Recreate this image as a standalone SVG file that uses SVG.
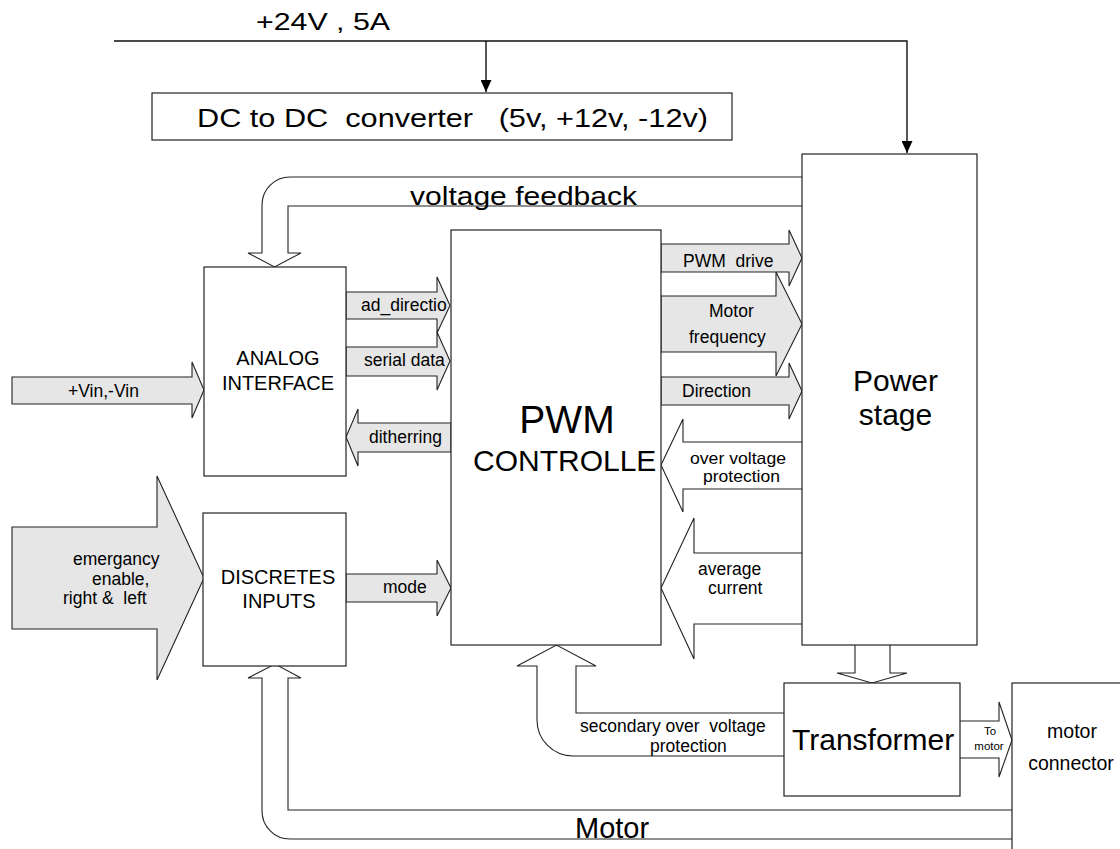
<svg xmlns="http://www.w3.org/2000/svg" width="1120" height="849" viewBox="0 0 1120 849">
<defs>
<style>
.box{fill:#fff;stroke:#222;stroke-width:1.2}
.ln{fill:none;stroke:#111;stroke-width:1.4}
.ga{fill:#e6e6e6;stroke:#222;stroke-width:1.1}
.wa{fill:#fff;stroke:#222;stroke-width:1.1}
text{font-family:"Liberation Sans",Arial,sans-serif;fill:#000}
.s{font-size:17.5px}
.s2{font-size:16.5px}
.m{font-size:20px}
.xs{font-size:11.5px}
</style>
<marker id="ah" markerWidth="12" markerHeight="11" refX="12" refY="5.5" orient="auto" markerUnits="userSpaceOnUse">
<path d="M0,0 L12,5.5 L0,11 Z" fill="#000"/>
</marker>
</defs>
<rect width="1120" height="849" fill="#fff"/>

<g id="connectors">
<path class="ln" d="M114,41 H907 V153" marker-end="url(#ah)"/>
<path class="ln" d="M486,41 V92" marker-end="url(#ah)"/>
<!-- voltage feedback -->
<path class="wa" d="M802,177 H290 A28,28 0 0 0 262,205 V253 H248 L274.5,267 L301,253 H288 V206 H802"/>
<!-- analog arrows -->
<path class="ga" d="M346,292 H437 V277 L450,305.5 L437,333 V319 H346 Z"/>
<path class="ga" d="M346,347 H437 V332 L450,361 L437,390 V376 H346 Z"/>
<path class="ga" d="M12,377 H192 V362 L204,390 L192,418 V404 H12 Z"/>
<path class="ga" d="M451,423 H358 V409 L346,437 L358,466 V452 H451 Z"/>
<path class="ga" d="M12,527 H157 V476 L204,578 L157,680 V629 H12 Z"/>
<path class="ga" d="M346,574 H437 V560 L451,588 L437,616 V602 H346 Z"/>
<!-- PWM to power -->
<path class="ga" d="M661,244 H789 V230 L802,258 L789,286 V272 H661 Z"/>
<path class="ga" d="M661,296 H776 V272 L802,324 L776,376 V352 H661 Z"/>
<path class="ga" d="M661,377 H789 V363 L802,391 L789,419 V405 H661 Z"/>
<path class="wa" d="M802,442 H683 V419 L661,465 L683,512 V489 H802"/>
<path class="wa" d="M802,553 H694 V518 L661,588 L694,659 V624 H802"/>
<!-- power to transformer -->
<path class="wa" d="M855,645 V673 H837 L872,683 L907,673 H890 V645"/>
<!-- to motor -->
<path class="wa" d="M960,721 H999 V702 L1012,740 L999,777 V758 H960"/>
<!-- secondary over voltage -->
<path class="wa" d="M784,713 H576 V666 H596 L556.5,645 L517,666 H537 V720 A36,36 0 0 0 573,756 H784"/>
<!-- motor feedback -->
<path class="wa" d="M1012,810 H288 V678 H301 L275,664 L248,678 H262 V811 A28,28 0 0 0 290,839 H1012"/>
</g>

<g id="dc">
<rect class="box" x="152" y="93" width="580" height="47"/>
<text x="197" y="127" font-size="26" textLength="511" lengthAdjust="spacingAndGlyphs" xml:space="preserve">DC to DC  converter   (5v, +12v, -12v)</text>
</g>
<text x="256" y="30" font-size="24" textLength="134" lengthAdjust="spacingAndGlyphs" xml:space="preserve">+24V , 5A</text>

<g id="power">
<rect class="box" x="802" y="154" width="175" height="491"/>
<text x="895.5" y="391" font-size="30" text-anchor="middle">Power</text>
<text x="895.5" y="425" font-size="30" text-anchor="middle">stage</text>
</g>
<text x="410" y="205" font-size="26" textLength="227" lengthAdjust="spacingAndGlyphs">voltage feedback</text>

<g id="analog">
<rect class="box" x="204" y="267" width="142" height="209"/>
<text class="m" x="278" y="365" text-anchor="middle">ANALOG</text>
<text class="m" x="278" y="390" text-anchor="middle">INTERFACE</text>
</g>

<g id="discretes">
<rect class="box" x="203" y="513" width="143" height="153"/>
<text class="m" x="278" y="584" text-anchor="middle">DISCRETES</text>
<text class="m" x="279" y="608" text-anchor="middle">INPUTS</text>
</g>

<g id="pwm">
<rect class="box" x="451" y="230" width="210" height="415"/>
<text x="567" y="433" font-size="39" text-anchor="middle">PWM</text>
<text x="473" y="471" font-size="30">CONTROLLE</text>
</g>

<g id="transformer">
<rect class="box" x="784" y="683" width="176" height="113"/>
<text x="792" y="750" font-size="30">Transformer</text>
</g>

<g id="motorconn">
<rect class="box" x="1012" y="683" width="120" height="175"/>
<text x="1072" y="738" font-size="19.5" text-anchor="middle">motor</text>
<text x="1071" y="770" font-size="19.5" text-anchor="middle">connector</text>
</g>

<g id="labels">
<text class="s" x="361" y="311">ad_directio</text>
<text class="s" x="364" y="366">serial data</text>
<text class="s" x="68" y="397">+Vin,-Vin</text>
<text class="s" x="369" y="443">ditherring</text>
<text class="s" x="73" y="565">emergancy</text>
<text class="s" x="92" y="585">enable,</text>
<text class="s" x="63" y="604" xml:space="preserve">right &amp;  left</text>
<text class="s" x="383" y="593">mode</text>
<text class="s" x="683" y="267" xml:space="preserve">PWM  drive</text>
<text class="s" x="709" y="317">Motor</text>
<text class="s" x="689" y="343">frequency</text>
<text class="s" x="682" y="397">Direction</text>
<text class="s2" x="690" y="464" textLength="96" lengthAdjust="spacingAndGlyphs">over voltage</text>
<text class="s2" x="703" y="482" textLength="77" lengthAdjust="spacingAndGlyphs">protection</text>
<text class="s" x="698" y="575">average</text>
<text class="s" x="708" y="594">current</text>
<text class="s" x="580" y="732" xml:space="preserve">secondary over  voltage</text>
<text class="s" x="650" y="752">protection</text>
<text class="xs" x="990" y="735" text-anchor="middle">To</text>
<text class="xs" x="989" y="750" text-anchor="middle">motor</text>
<text x="575" y="838" font-size="29">Motor</text>
</g>
</svg>
